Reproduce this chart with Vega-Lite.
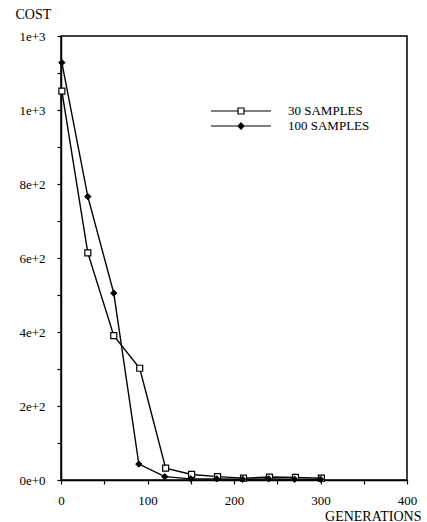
{
  "$schema": "https://vega.github.io/schema/vega-lite/v6.json",
  "width": 346,
  "height": 444,
  "autosize": {"type": "none"},
  "padding": {"left": 61, "top": 36, "right": 20, "bottom": 42},
  "config": {
    "font": "Liberation Serif",
    "view": {"stroke": "black", "strokeWidth": 1.5},
    "axis": {"grid": false, "domainColor": "black", "tickColor": "black", "labelColor": "black", "titleColor": "black", "labelFont": "Liberation Serif", "titleFont": "Liberation Serif", "labelFontSize": 13, "titleFontSize": 14, "titleFontWeight": "normal", "domainWidth": 1.5, "tickWidth": 1.2, "tickSize": 4},
    "legend": {"labelFont": "Liberation Serif", "labelFontSize": 13, "labelColor": "black", "padding": 0}
  },
  "data": {"values": [
    {"series": "30 SAMPLES", "gen": 1, "cost": 1051},
    {"series": "30 SAMPLES", "gen": 31, "cost": 614},
    {"series": "30 SAMPLES", "gen": 61, "cost": 390},
    {"series": "30 SAMPLES", "gen": 91, "cost": 302},
    {"series": "30 SAMPLES", "gen": 121, "cost": 32},
    {"series": "30 SAMPLES", "gen": 151, "cost": 15},
    {"series": "30 SAMPLES", "gen": 181, "cost": 9},
    {"series": "30 SAMPLES", "gen": 211, "cost": 5},
    {"series": "30 SAMPLES", "gen": 241, "cost": 8},
    {"series": "30 SAMPLES", "gen": 271, "cost": 7},
    {"series": "30 SAMPLES", "gen": 301, "cost": 5},
    {"series": "100 SAMPLES", "gen": 1, "cost": 1128},
    {"series": "100 SAMPLES", "gen": 31, "cost": 766},
    {"series": "100 SAMPLES", "gen": 61, "cost": 505},
    {"series": "100 SAMPLES", "gen": 90, "cost": 43},
    {"series": "100 SAMPLES", "gen": 120, "cost": 9},
    {"series": "100 SAMPLES", "gen": 150, "cost": 3},
    {"series": "100 SAMPLES", "gen": 180, "cost": 3},
    {"series": "100 SAMPLES", "gen": 210, "cost": 2},
    {"series": "100 SAMPLES", "gen": 240, "cost": 3},
    {"series": "100 SAMPLES", "gen": 270, "cost": 2},
    {"series": "100 SAMPLES", "gen": 300, "cost": 2}
  ]},
  "encoding": {
    "x": {"field": "gen", "type": "quantitative", "scale": {"domain": [0, 400], "nice": false, "zero": false},
      "axis": {"title": "GENERATIONS", "values": [0, 50, 100, 150, 200, 250, 300, 350, 400], "labelExpr": "datum.value % 100 == 0 ? datum.label : ''", "labelPadding": 10, "labelFlush": false, "labelOverlap": false,
        "titleX": 360, "titleY": 40, "titleAlign": "right", "titleBaseline": "alphabetic", "titleAnchor": null}},
    "y": {"field": "cost", "type": "quantitative", "scale": {"domain": [0, 1200], "nice": false},
      "axis": {"title": "COST", "values": [0, 100, 200, 300, 400, 500, 600, 700, 800, 900, 1000, 1100, 1200], "labelExpr": "datum.value % 200 == 0 ? format(datum.value, '.0e') : ''", "labelPadding": 12, "labelFlush": false, "labelOverlap": false,
        "titleAngle": 0, "titleX": -46, "titleY": -18, "titleAlign": "left", "titleBaseline": "alphabetic", "titleAnchor": null}}
  },
  "layer": [
    {
      "mark": {"type": "line", "color": "black", "strokeWidth": 1.4},
      "encoding": {"detail": {"field": "series"}}
    },
    {
      "transform": [{"filter": "datum.series == '30 SAMPLES'"}],
      "mark": {"type": "point", "shape": "square", "fill": "white", "stroke": "black", "strokeWidth": 1.2, "opacity": 1, "size": 36, "filled": true}
    },
    {
      "transform": [{"filter": "datum.series == '100 SAMPLES'"}],
      "mark": {"type": "point", "shape": "diamond", "fill": "black", "stroke": "black", "strokeWidth": 1, "opacity": 1, "size": 40, "filled": true}
    },
    {
      "transform": [{"filter": "datum.series == '30 SAMPLES'"}],
      "mark": {"type": "point", "fill": "black", "opacity": 0, "filled": true, "size": 3600},
      "encoding": {
        "shape": {"field": "series", "type": "nominal",
          "scale": {"domain": ["30 SAMPLES"], "range": ["M-1,-0.02H-0.12V0.02H-1ZM0.12,-0.02H1V0.02H0.12ZM-0.12,-0.12H0.12V0.12H-0.12ZM-0.08,-0.08V0.08H0.08V-0.08Z"]},
          "legend": {"title": null, "orient": "none", "legendX": 150, "legendY": 45, "symbolSize": 3600, "labelOffset": 17, "symbolOpacity": 1, "symbolFillColor": "black", "symbolStrokeColor": "black", "symbolStrokeWidth": 0}}
      }
    },
    {
      "transform": [{"filter": "datum.series == '100 SAMPLES'"}],
      "mark": {"type": "point", "fill": "black", "opacity": 0, "filled": true, "size": 3600},
      "encoding": {
        "shape": {"field": "series", "type": "nominal",
          "scale": {"domain": ["100 SAMPLES"], "range": ["M-1,-0.02H1V0.02H-1ZM0,-0.13L0.13,0L0,0.13L-0.13,0Z"]},
          "legend": {"title": null, "orient": "none", "legendX": 150, "legendY": 60, "symbolSize": 3600, "labelOffset": 17, "symbolOpacity": 1, "symbolFillColor": "black", "symbolStrokeColor": "black", "symbolStrokeWidth": 0}}
      }
    }
  ],
  "resolve": {"scale": {"shape": "independent"}, "legend": {"shape": "independent"}}
}
